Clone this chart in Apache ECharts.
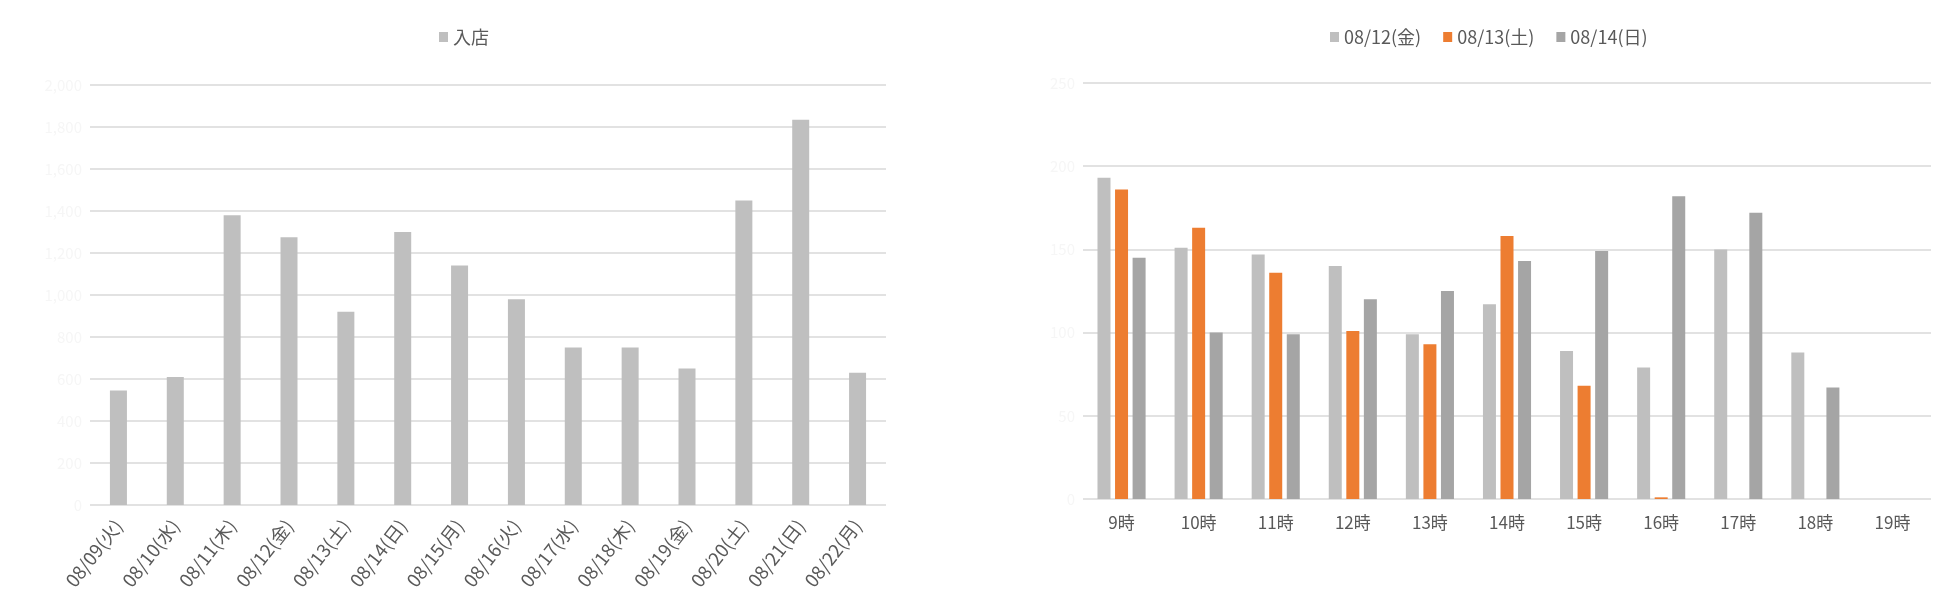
<!DOCTYPE html>
<html>
<head>
<meta charset="utf-8">
<script src="https://cdn.jsdelivr.net/npm/echarts@6/dist/echarts.min.js"></script>
<style>
html,body{margin:0;padding:0;background:#fff;}
#c{width:1956px;height:612px;}
</style>
</head>
<body>
<div id="c"></div>
<script>
// ---- data ----
const dayCategories = ['08/09(火)','08/10(水)','08/11(木)','08/12(金)','08/13(土)','08/14(日)','08/15(月)','08/16(火)','08/17(水)','08/18(木)','08/19(金)','08/20(土)','08/21(日)','08/22(月)'];
const visitsName = '入店';
const visits = [545, 610, 1380, 1275, 920, 1300, 1140, 980, 750, 750, 650, 1450, 1835, 630];

const hourCategories = ['9時','10時','11時','12時','13時','14時','15時','16時','17時','18時','19時'];
const hourSeriesNames = ['08/12(金)','08/13(土)','08/14(日)'];
const day0812 = [193, 151, 147, 140, 99, 117, 89, 79, 150, 88, 0];
const day0813 = [186, 163, 136, 101, 93, 158, 68, 1, 0, 0, 0];
const day0814 = [145, 100, 99, 120, 125, 143, 149, 182, 172, 67, 0];

const FONT = '"Noto Sans CJK JP","Noto Sans",sans-serif';
const TXT = '#595959';
const GRID = '#e2e2e2';

const chart = echarts.init(document.getElementById('c'));
const yAxisCommon = {
  type: 'value',
  axisLine: {show: false},
  axisTick: {show: false},
  axisLabel: {color: '#f6f6f6', fontSize: 15, fontFamily: FONT},
  splitLine: {lineStyle: {color: GRID, width: 2}}
};
chart.setOption({
  animation: false,
  textStyle: {fontFamily: FONT},
  legend: [
    {
      data: [visitsName], left: 434, top: 23,
      icon: 'rect', itemWidth: 9, itemHeight: 10, itemGap: 22,
      textStyle: {color: TXT, fontSize: 18, fontFamily: FONT}
    },
    {
      data: hourSeriesNames, left: 1325, top: 23,
      icon: 'rect', itemWidth: 9, itemHeight: 10, itemGap: 22,
      textStyle: {color: TXT, fontSize: 18, fontFamily: FONT}
    }
  ],
  grid: [
    {left: 90, right: 1070, top: 85, bottom: 107},
    {left: 1083, right: 25, top: 83, bottom: 113}
  ],
  xAxis: [
    {
      gridIndex: 0, type: 'category', data: dayCategories,
      axisLine: {show: false}, axisTick: {show: false},
      axisLabel: {color: TXT, fontSize: 18.5, rotate: 52, margin: 17, fontFamily: FONT, interval: 0}
    },
    {
      gridIndex: 1, type: 'category', data: hourCategories,
      axisLine: {show: false}, axisTick: {show: false},
      axisLabel: {color: TXT, fontSize: 17, margin: 15, fontFamily: FONT, interval: 0}
    }
  ],
  yAxis: [
    Object.assign({gridIndex: 0, min: 0, max: 2000, interval: 200}, yAxisCommon),
    Object.assign({gridIndex: 1, min: 0, max: 250, interval: 50}, yAxisCommon)
  ],
  series: [
    {name: visitsName, type: 'bar', xAxisIndex: 0, yAxisIndex: 0, data: visits, barWidth: 17, itemStyle: {color: '#bfbfbf'}},
    {name: hourSeriesNames[0], type: 'bar', xAxisIndex: 1, yAxisIndex: 1, data: day0812, barWidth: 13, barGap: '35%', itemStyle: {color: '#bfbfbf'}},
    {name: hourSeriesNames[1], type: 'bar', xAxisIndex: 1, yAxisIndex: 1, data: day0813, barWidth: 13, barGap: '35%', itemStyle: {color: '#ed7d31'}},
    {name: hourSeriesNames[2], type: 'bar', xAxisIndex: 1, yAxisIndex: 1, data: day0814, barWidth: 13, barGap: '35%', itemStyle: {color: '#a5a5a5'}}
  ]
});
</script>
</body>
</html>
